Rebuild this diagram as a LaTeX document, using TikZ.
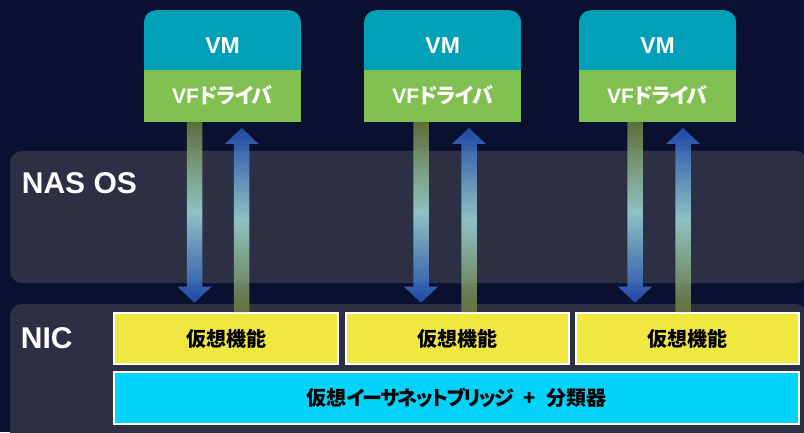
\documentclass[tikz,border=0pt]{standalone}
\usepackage{fontspec}
\setmainfont{Liberation Sans}
\newfontfamily\jp{Noto Sans CJK JP}[RawFeature=+palt]
\usetikzlibrary{positioning, calc}
\definecolor{night}{HTML}{0A1130}
\definecolor{panel}{HTML}{2D3044}
\definecolor{vmteal}{HTML}{00A0B8}
\definecolor{vfgreen}{HTML}{80C050}
\definecolor{fnyellow}{HTML}{F0E840}
\definecolor{brcyan}{HTML}{00D2F8}
\definecolor{olive}{HTML}{6E7E3C}
\definecolor{glow}{HTML}{A0DCD8}
\definecolor{arblue}{HTML}{2452BC}

\newcommand{\fatarrow}[3]{%
  \path[#1] let \p1=(#2), \p2=(#3), \n1={sign(\y2-\y1)*16} in
    (\x1-7.75pt,\y1) -- (\x1-7.75pt,\y2-\n1) -- (\x1-17pt,\y2-\n1) -- (\x2,\y2)
    -- (\x1+17pt,\y2-\n1) -- (\x1+7.75pt,\y2-\n1) -- (\x1+7.75pt,\y1) -- cycle;}
\newcommand{\kana}[2]{{\jp\addfontfeature{LetterSpace=#1}#2}}

\begin{document}
\begin{tikzpicture}[x=1pt, y=1pt,
   vmbox/.style={rectangle, rounded corners=12pt, fill=vmteal, minimum width=157pt,
     minimum height=71pt, inner sep=0pt, text=white,
     font=\fontsize{23}{23}\selectfont\bfseries},
   vfbox/.style={rectangle, fill=vfgreen, minimum width=157pt, minimum height=52pt,
     inner sep=0pt, text=white, font=\fontsize{21}{21}\selectfont\bfseries},
   fnbox/.style={rectangle, draw=white, line width=2pt, fill=fnyellow,
     minimum width=223.5pt, minimum height=51pt, inner sep=0pt,
     font=\jp\fontsize{20}{20}\selectfont\bfseries},
   brbox/.style={fnbox, fill=brcyan, minimum width=685pt, minimum height=52pt},
   layer/.style={fill=panel, rounded corners=12pt},
   tag/.style={anchor=base west, inner sep=0pt, text=white,
     font=\fontsize{30}{30}\selectfont\bfseries},
   dnshade/.style={top color=olive, bottom color=arblue, middle color=glow, fill opacity=0.85},
   upshade/.style={top color=arblue, bottom color=olive, middle color=glow, fill opacity=0.85}]
 \useasboundingbox (0,0) rectangle (804,432);
 \clip (0,0) rectangle (804,432);
 \fill[night] (0,0) rectangle (804,432);
 \fill[layer] (10,149) rectangle (808,281);
 \fill[layer] (10,-20) rectangle (808,128);
 \node[tag] (nas) at (21.7,238.7) {NAS OS};
 \node[tag] (nic) at (20.7,83.7) {NIC};

 \node[vmbox, anchor=north] (vm1) at (222.5,422) {VM};
 \node[vmbox, anchor=north] (vm2) at (442.7,422) {VM};
 \node[vmbox, anchor=north] (vm3) at (657.5,422) {VM};
 \node[vfbox, below=-12pt of vm1] (vf1) {VF\kana{-5}{ドライバ}};
 \node[vfbox, below=-12pt of vm2] (vf2) {VF\kana{-5}{ドライバ}};
 \node[vfbox, below=-12pt of vm3] (vf3) {VF\kana{-5}{ドライバ}};

 \node[fnbox] (fn1) at (226,93.5) {仮想機能};
 \node[fnbox] (fn2) at (457.5,93.5) {仮想機能};
 \node[fnbox] (fn3) at (687.5,93.5) {仮想機能};
 \node[brbox] (br) at (456.5,34)
   {仮想\kana{-8}{イーサネットブリッジ}\hspace{10pt}+\hspace{10pt}分類器};

 \coordinate (d1) at (194.5,129.3); \coordinate (u1) at (241.7,304);
 \coordinate (d2) at (421,129.3);   \coordinate (u2) at (469,304);
 \coordinate (d3) at (635,129.3);   \coordinate (u3) at (683,304);
 \fatarrow{dnshade}{vf1.south -| d1}{d1} \fatarrow{upshade}{fn1.north -| u1}{u1}
 \fatarrow{dnshade}{vf2.south -| d2}{d2} \fatarrow{upshade}{fn2.north -| u2}{u2}
 \fatarrow{dnshade}{vf3.south -| d3}{d3} \fatarrow{upshade}{fn3.north -| u3}{u3}
\end{tikzpicture}
\end{document}
